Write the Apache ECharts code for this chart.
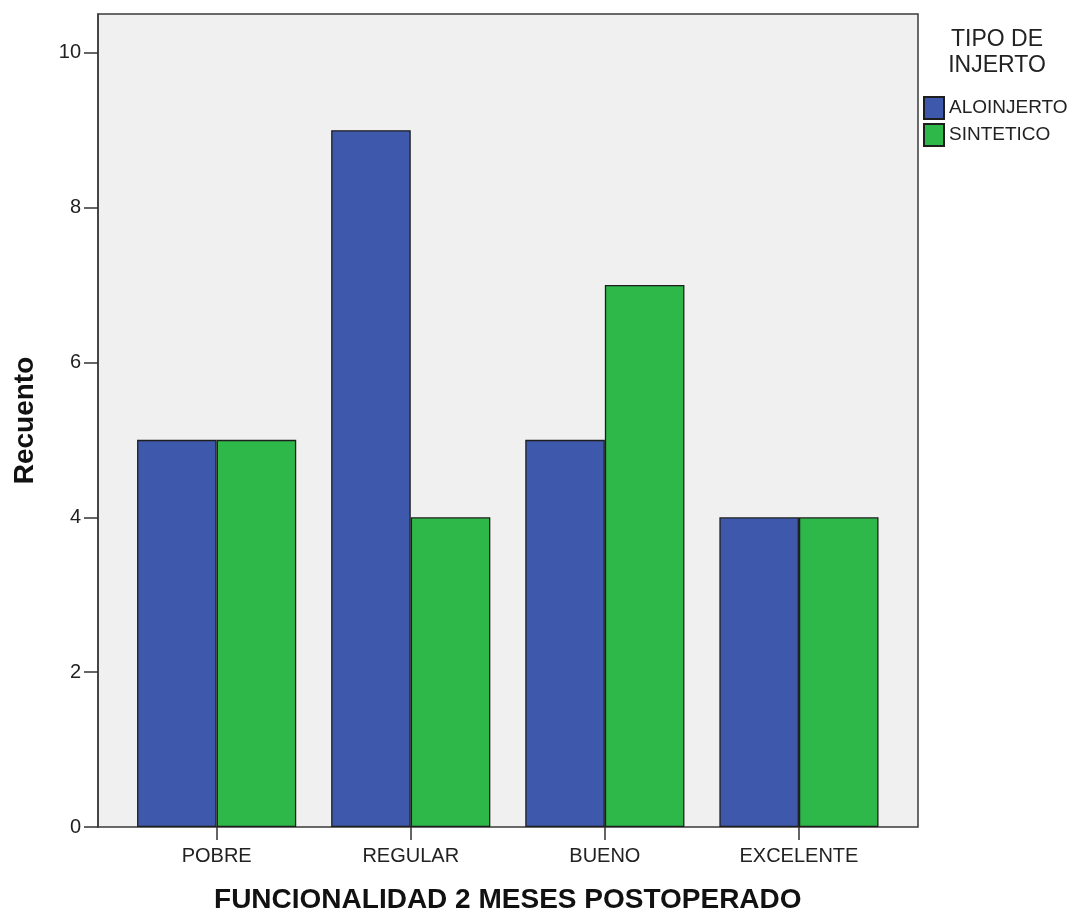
<!DOCTYPE html>
<html>
<head>
<meta charset="utf-8">
<script src="https://cdn.jsdelivr.net/npm/echarts@6/dist/echarts.min.js"></script>
<style>html,body{margin:0;padding:0;background:#fff}#c{width:1075px;height:913px}</style>
</head>
<body>
<div id="c"></div>
<script>
const categories = ['POBRE', 'REGULAR', 'BUENO', 'EXCELENTE'];
const aloinjerto = [5, 9, 5, 4];
const sintetico = [5, 4, 7, 4];
const yTicks = [0, 2, 4, 6, 8, 10];
const legendTitle = 'TIPO DE\nINJERTO';
const xTitle = 'FUNCIONALIDAD 2 MESES POSTOPERADO';
const yTitle = 'Recuento';

const FONT = '"Liberation Sans", Arial, sans-serif';
const chart = echarts.init(document.getElementById('c'));
chart.setOption({
  animation: false,
  backgroundColor: '#ffffff',
  title: {
    text: legendTitle, padding: 0,
    left: 997, top: 27, textAlign: 'center',
    textStyle: {fontFamily: FONT, fontSize: 23, fontWeight: 'normal', color: '#222', lineHeight: 26}
  },
  legend: {
    orient: 'vertical', left: 923, top: 96, padding: 0,
    icon: 'rect', itemWidth: 20, itemHeight: 22, itemGap: 3,
    textStyle: {fontFamily: FONT, fontSize: 19, color: '#222'},
    data: ['ALOINJERTO', 'SINTETICO']
  },
  grid: [
    {left: 98, right: 157, top: 14, bottom: 86, outerBoundsMode: 'none', show: true, backgroundColor: '#f0f0f0', borderColor: '#3a3a3a', borderWidth: 1.5},
    {left: 119.6, right: 179, top: 14, bottom: 86, outerBoundsMode: 'none'}
  ],
  xAxis: [
    {type: 'value', gridIndex: 0, min: 0, max: 1, show: false},
    {type: 'category', gridIndex: 1, data: categories,
     axisLine: {show: false},
     axisTick: {show: true, alignWithLabel: true, length: 13, lineStyle: {color: '#333', width: 1.5}},
     axisLabel: {fontFamily: FONT, fontSize: 20, color: '#222', margin: 19},
     name: xTitle, nameLocation: 'middle', nameGap: 59,
     nameTextStyle: {fontFamily: FONT, fontSize: 28, fontWeight: 'bold', color: '#111'}}
  ],
  yAxis: [
    {type: 'value', gridIndex: 0, min: 0, max: 10.5, interval: 2,
     axisLine: {show: true, lineStyle: {color: '#3a3a3a', width: 1.5}},
     axisTick: {show: true, length: 14, customValues: yTicks, lineStyle: {color: '#333', width: 1.5}},
     axisLabel: {fontFamily: FONT, fontSize: 20, color: '#222', margin: 17, customValues: yTicks, padding: [5, 0, 0, 0]},
     splitLine: {show: false},
     name: yTitle, nameLocation: 'middle', nameGap: 59, nameRotate: 90,
     nameTextStyle: {fontFamily: FONT, fontSize: 28, fontWeight: 'bold', color: '#111'}},
    {type: 'value', gridIndex: 1, min: 0, max: 10.5, show: false, splitLine: {show: false}}
  ],
  series: [
    {name: 'ALOINJERTO', type: 'bar', xAxisIndex: 1, yAxisIndex: 1, data: aloinjerto,
     barGap: '0%', barCategoryGap: '18%',
     itemStyle: {color: '#3e58ab', borderColor: '#1e1e1e', borderWidth: 1.3}},
    {name: 'SINTETICO', type: 'bar', xAxisIndex: 1, yAxisIndex: 1, data: sintetico,
     barGap: '0%', barCategoryGap: '18%',
     itemStyle: {color: '#2eb84a', borderColor: '#1e1e1e', borderWidth: 1.3}}
  ]
});
</script>
</body>
</html>
